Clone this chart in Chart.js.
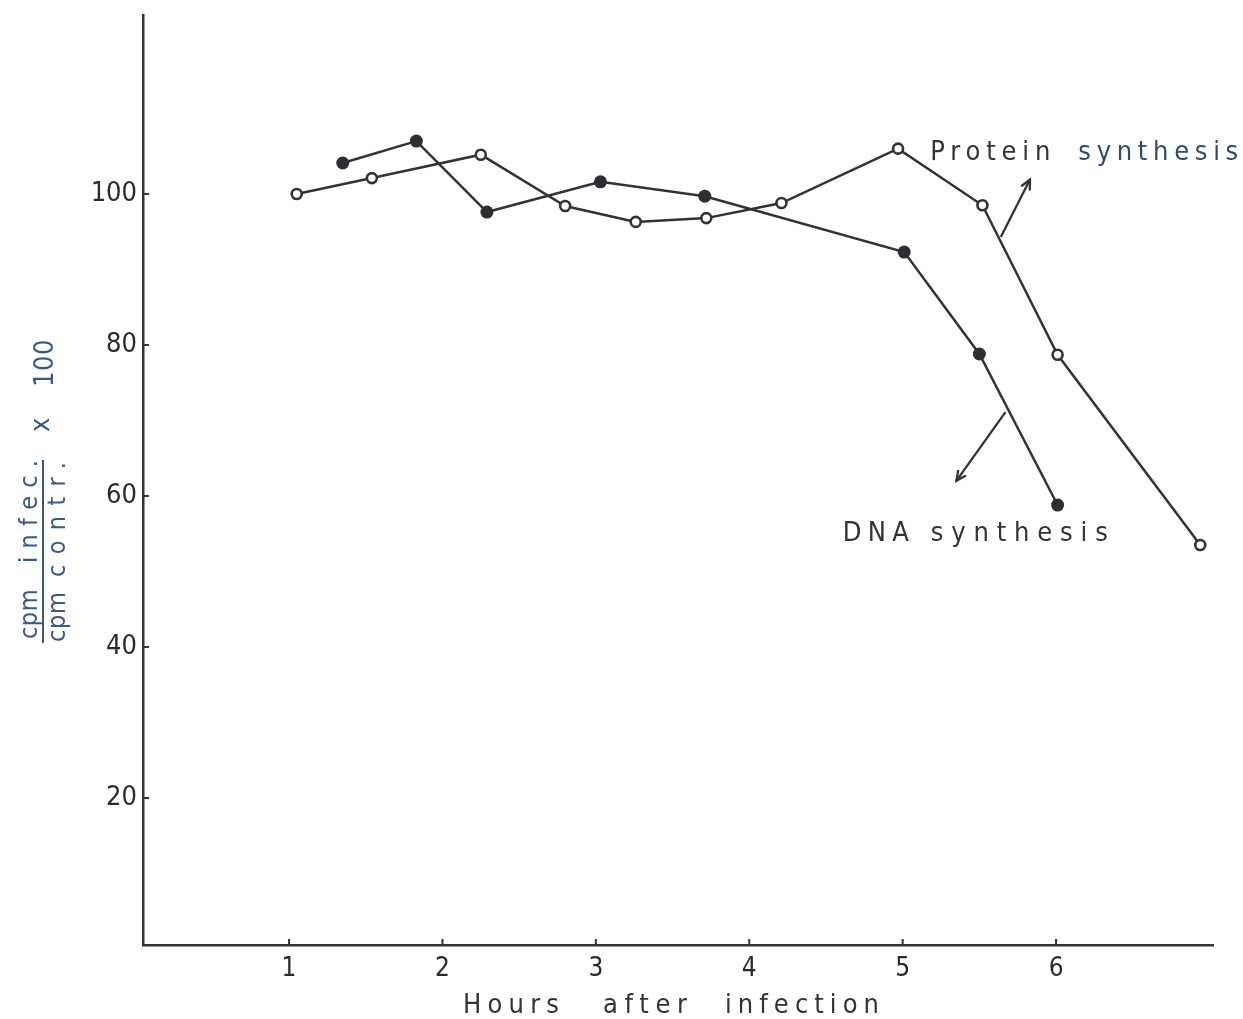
<!DOCTYPE html>
<html>
<head>
<meta charset="utf-8">
<script src="https://cdn.jsdelivr.net/npm/chart.js@4/dist/chart.umd.min.js"></script>
<style>
  html, body { margin: 0; padding: 0; background: #fff; }
  #wrap { width: 1243px; height: 1019px; }
</style>
</head>
<body>
<div id="wrap"><canvas id="chart" width="1243" height="1019"></canvas></div>
<script>
// datos
const protHours  = [1.05, 1.54, 2.25, 2.80, 3.26, 3.72, 4.21, 4.97, 5.52, 6.01, 6.94];
const protValues = [100, 102.1, 105.2, 98.4, 96.3, 96.8, 98.8, 106, 98.5, 78.7, 53.5];
const dnaHours   = [1.35, 1.83, 2.29, 3.03, 3.71, 5.01, 5.50, 6.01];
const dnaValues  = [104.1, 107, 97.6, 101.6, 99.7, 92.3, 78.8, 58.8];

const xTicks = [1, 2, 3, 4, 5, 6];
const yTicks = [20, 40, 60, 80, 100];

const xTitle = ['Hours', 'after', 'infection'];
const protLabel = ['Protein', 'synthesis'];
const dnaLabel = ['DNA', 'synthesis'];
const yNum = ['cpm', 'infec.'];
const yDen = ['cpm', 'contr.'];

// flechas y etiquetas en unidades de datos
const protArrow = [[5.64, 94.3], [5.83, 101.9]];
const dnaArrow  = [[5.67, 71.1], [5.35, 62.0]];

const FONT = '"DejaVu Sans Condensed", "DejaVu Sans", sans-serif';
const INK = '#333333';
const BLUE = '#3a5a86';

const toPts = (xs, ys) => xs.map((x, i) => ({ x: x, y: ys[i] }));

// texto con espaciado ajustado a un ancho (nunca negativo)
function spacedText(ctx, text, x, y, width) {
    ctx.letterSpacing = '0px';
    const w = ctx.measureText(text).width;
    const sp = Math.max((width - w) / Math.max(text.length - 1, 1), 0.5);
    ctx.letterSpacing = sp + 'px';
    ctx.fillText(text, x, y);
    ctx.letterSpacing = '0px';
}

function arrow(ctx, x1, y1, x2, y2) {
    ctx.beginPath();
    ctx.moveTo(x1, y1);
    ctx.lineTo(x2, y2);
    ctx.stroke();
    const a = Math.atan2(y2 - y1, x2 - x1);
    const L = 11;
    ctx.beginPath();
    ctx.moveTo(x2 + L * Math.cos(a + Math.PI - 0.45), y2 + L * Math.sin(a + Math.PI - 0.45));
    ctx.lineTo(x2, y2);
    ctx.lineTo(x2 + L * Math.cos(a + Math.PI + 0.45), y2 + L * Math.sin(a + Math.PI + 0.45));
    ctx.stroke();
}

const annotations = {
    id: 'annotations',
    afterDraw(chart) {
        const ctx = chart.ctx;
        const xs = chart.scales.x, ys = chart.scales.y;
        const area = chart.chartArea;
        ctx.save();

        // marcas de escala hacia dentro
        ctx.strokeStyle = INK;
        ctx.lineWidth = 2;
        xTicks.forEach(v => {
            const px = xs.getPixelForValue(v);
            ctx.beginPath();
            ctx.moveTo(px, area.bottom);
            ctx.lineTo(px, area.bottom - 6);
            ctx.stroke();
        });
        yTicks.forEach(v => {
            const py = ys.getPixelForValue(v);
            ctx.beginPath();
            ctx.moveTo(area.left, py);
            ctx.lineTo(area.left + 6, py);
            ctx.stroke();
        });

        // flechas
        ctx.lineWidth = 2.3;
        [protArrow, dnaArrow].forEach(a => {
            arrow(ctx, xs.getPixelForValue(a[0][0]), ys.getPixelForValue(a[0][1]),
                  xs.getPixelForValue(a[1][0]), ys.getPixelForValue(a[1][1]));
        });

        // etiquetas de las series
        ctx.font = '27px ' + FONT;
        ctx.textBaseline = 'middle';
        ctx.textAlign = 'left';
        let px = xs.getPixelForValue(5.18), py = ys.getPixelForValue(105.4);
        ctx.fillStyle = INK;
        spacedText(ctx, protLabel[0], px, py, 120);
        ctx.fillStyle = '#2f4c6c';
        spacedText(ctx, protLabel[1], px + 148, py, 160);
        ctx.fillStyle = INK;
        px = xs.getPixelForValue(4.61);
        py = ys.getPixelForValue(55.0);
        spacedText(ctx, dnaLabel[0], px, py, 66);
        spacedText(ctx, dnaLabel[1], px + 88, py, 177);

        // titulo eje x
        ctx.font = '27px ' + FONT;
        const ty = area.bottom + 61;
        spacedText(ctx, xTitle[0], 463, ty, 96);
        spacedText(ctx, xTitle[1], 603, ty, 84);
        spacedText(ctx, xTitle[2], 725, ty, 154);

        // titulo eje y (fraccion girada)
        ctx.translate(43, 551);
        ctx.rotate(-Math.PI / 2);
        ctx.fillStyle = BLUE;
        ctx.strokeStyle = BLUE;
        ctx.font = '25px ' + FONT;
        ctx.textAlign = 'left';
        ctx.textBaseline = 'alphabetic';
        spacedText(ctx, yNum[0], -88, -6, 49);
        spacedText(ctx, yNum[1], -12, -6, 103);
        ctx.textBaseline = 'top';
        spacedText(ctx, yDen[0], -91, 3, 50);
        spacedText(ctx, yDen[1], -26, 3, 115);
        ctx.lineWidth = 2;
        ctx.beginPath();
        ctx.moveTo(-92, 0);
        ctx.lineTo(91, 0);
        ctx.stroke();
        ctx.textBaseline = 'middle';
        ctx.font = '27px ' + FONT;
        ctx.fillText('x', 119, -1);
        spacedText(ctx, '100', 164, 3, 46);
        ctx.restore();
    }
};

const ctx = document.getElementById('chart').getContext('2d');

new Chart(ctx, {
    type: 'scatter',
    data: {
        datasets: [
            {
                label: 'Protein synthesis',
                data: toPts(protHours, protValues),
                showLine: true,
                borderColor: INK,
                borderWidth: 2.5,
                pointRadius: 5,
                pointBorderWidth: 2.6,
                pointBackgroundColor: '#ffffff',
                pointBorderColor: INK
            },
            {
                label: 'DNA synthesis',
                data: toPts(dnaHours, dnaValues),
                showLine: true,
                borderColor: INK,
                borderWidth: 2.5,
                pointRadius: 6.5,
                pointBorderWidth: 0,
                pointBackgroundColor: '#2b2f33',
                pointBorderColor: '#2b2f33'
            }
        ]
    },
    options: {
        responsive: false,
        animation: false,
        layout: { padding: { top: 15, right: 30, left: 0, bottom: 0 } },
        plugins: { legend: { display: false }, tooltip: { enabled: false } },
        scales: {
            x: {
                type: 'linear',
                min: 0.048,
                max: 7.023,
                afterBuildTicks: s => { s.ticks = xTicks.map(v => ({ value: v })); },
                afterFit: s => { s.height = 74; s.paddingLeft = 0; s.paddingRight = 0; },
                grid: { display: false, drawTicks: false },
                border: { display: true, color: INK, width: 2.5 },
                ticks: {
                    color: '#2b2b2b',
                    font: { family: FONT, size: 26 },
                    padding: 9,
                    maxRotation: 0
                }
            },
            y: {
                type: 'linear',
                min: 0.53,
                max: 123.7,
                afterBuildTicks: s => { s.ticks = yTicks.map(v => ({ value: v })); },
                afterFit: s => { s.width = 143; s.paddingTop = 0; s.paddingBottom = 0; },
                grid: { display: false, drawTicks: false },
                border: { display: true, color: INK, width: 2.5 },
                ticks: {
                    color: '#2b2b2b',
                    font: { family: FONT, size: 27 },
                    padding: 6
                }
            }
        }
    },
    plugins: [annotations]
});
</script>
</body>
</html>
